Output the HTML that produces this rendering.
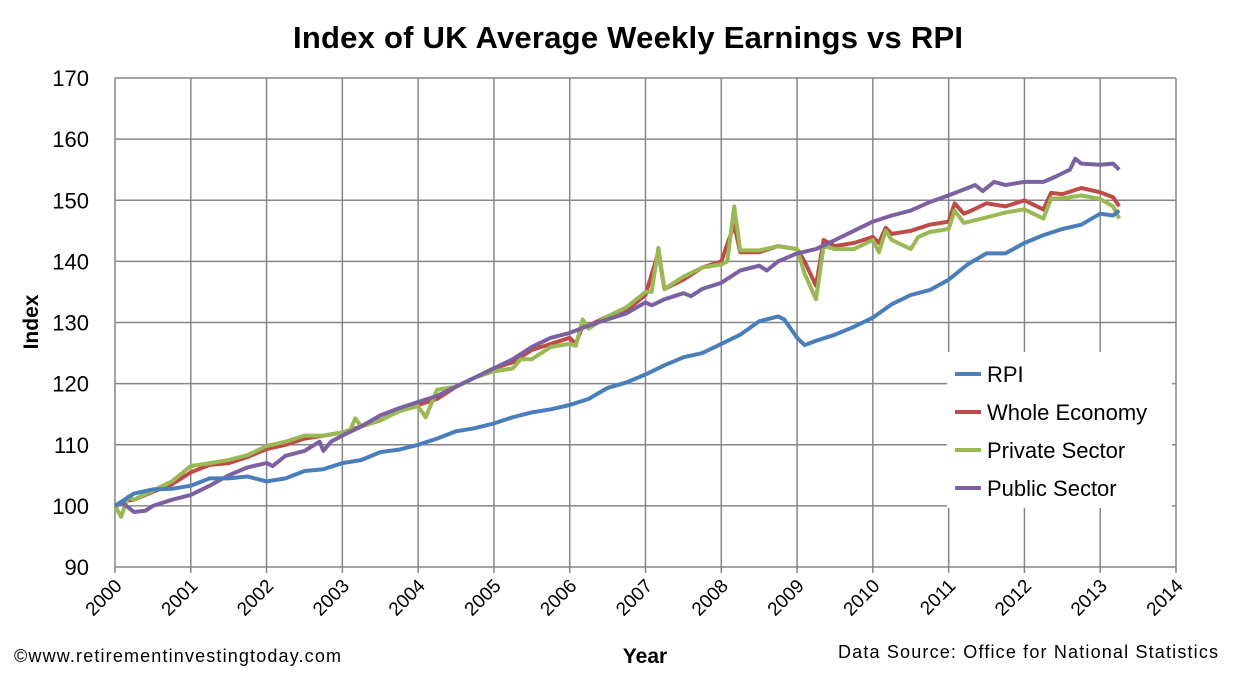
<!DOCTYPE html>
<html><head><meta charset="utf-8"><style>
body{margin:0;background:#fff;font-family:"Liberation Sans",sans-serif}
</style></head><body>
<svg width="1257" height="675" viewBox="0 0 1257 675">
<rect width="1257" height="675" fill="#fff"/>
<text x="628" y="48" font-size="31" font-weight="bold" text-anchor="middle" textLength="670">Index of UK Average Weekly Earnings vs RPI</text>
<g id="grid"></g>
<g id="series"></g>
<text x="0" y="0" transform="translate(38,322) rotate(-90)" font-size="21" font-weight="bold" text-anchor="middle">Index</text>
<text x="645" y="663" font-size="21" font-weight="bold" text-anchor="middle">Year</text>
<text x="14" y="662" font-size="18" textLength="327">©www.retirementinvestingtoday.com</text>
<text x="838" y="658" font-size="18" textLength="380">Data Source: Office for National Statistics</text>
<g id="legend"></g>
</svg>
<script>
const yTicks=[90,100,110,120,130,140,150,160,170];
const xTicks=[2000,2001,2002,2003,2004,2005,2006,2007,2008,2009,2010,2011,2012,2013,2014];
const seriesNames=["RPI","Whole Economy","Private Sector","Public Sector"];
const seriesColors=["#4a7ebb","#be4b48","#98b954","#7d60a0"];
const rpiX=[2000,2000.25,2000.5,2000.75,2001,2001.25,2001.5,2001.75,2002,2002.25,2002.5,2002.75,2003,2003.25,2003.5,2003.75,2004,2004.25,2004.5,2004.75,2005,2005.25,2005.5,2005.75,2006,2006.25,2006.5,2006.75,2007,2007.25,2007.5,2007.75,2008,2008.25,2008.5,2008.75,2008.83,2009,2009.1,2009.25,2009.5,2009.75,2010,2010.25,2010.5,2010.75,2011,2011.25,2011.5,2011.75,2012,2012.25,2012.5,2012.75,2013,2013.17,2013.25];
const rpiY=[100,102,102.7,102.8,103.3,104.5,104.5,104.8,104,104.5,105.7,106,107,107.5,108.8,109.2,110,111,112.2,112.7,113.5,114.5,115.3,115.8,116.5,117.5,119.3,120.2,121.5,123,124.3,125,126.5,128,130.2,131,130.5,127.5,126.3,127,128,129.3,130.8,133,134.5,135.3,137,139.5,141.3,141.3,143,144.3,145.3,146,147.8,147.5,148.3];
const wholeX=[2000,2000.1,2000.25,2000.5,2000.75,2001,2001.25,2001.5,2001.75,2002,2002.25,2002.5,2002.75,2003,2003.25,2003.5,2003.75,2004,2004.25,2004.5,2004.75,2005,2005.25,2005.5,2005.75,2006,2006.08,2006.17,2006.25,2006.5,2006.75,2007,2007.17,2007.25,2007.5,2007.75,2008,2008.17,2008.25,2008.5,2008.75,2009,2009.1,2009.25,2009.35,2009.5,2009.75,2010,2010.08,2010.17,2010.25,2010.5,2010.75,2011,2011.08,2011.2,2011.3,2011.5,2011.75,2012,2012.25,2012.35,2012.5,2012.75,2013,2013.17,2013.25];
const wholeY=[100,100.8,101,102.3,103.5,105.5,106.7,107,108,109.3,110,111,111.5,112,113,114,115.5,116.5,117.5,119.5,121,122.5,123.5,125.5,126.5,127.5,126.5,129.5,129.5,131,132,134.5,141.5,135.5,137,139,140,146,141.5,141.5,142.5,142,140,136,143.5,142.5,143,144,143,145.5,144.5,145,146,146.5,149.5,147.8,148.3,149.5,149,150,148.5,151.2,151,152,151.3,150.5,149];
const privX=[2000,2000.08,2000.17,2000.25,2000.5,2000.75,2001,2001.25,2001.5,2001.75,2002,2002.25,2002.5,2002.75,2003,2003.1,2003.17,2003.25,2003.5,2003.75,2004,2004.1,2004.25,2004.5,2004.75,2005,2005.25,2005.35,2005.5,2005.75,2006,2006.08,2006.17,2006.25,2006.5,2006.75,2007,2007.08,2007.17,2007.25,2007.5,2007.75,2008,2008.08,2008.17,2008.25,2008.5,2008.75,2009,2009.1,2009.25,2009.35,2009.5,2009.75,2010,2010.08,2010.17,2010.25,2010.5,2010.6,2010.75,2011,2011.08,2011.2,2011.5,2011.75,2012,2012.25,2012.35,2012.5,2012.75,2013,2013.17,2013.25];
const privY=[100,98.2,101.5,101,102.5,104,106.5,107,107.5,108.3,109.8,110.5,111.5,111.5,112,112.3,114.3,113,114,115.5,116.3,114.5,119,119.5,121,122,122.5,124,124,126,126.5,126.2,130.5,129,131,132.5,135,135,142.2,135.5,137.5,139,139.5,140,149,141.8,141.8,142.5,142,138,133.8,142.5,142,142,143.5,141.5,145,143.5,142,144,144.8,145.3,148.3,146.3,147.2,148,148.5,147,150.3,150.3,150.8,150.2,149,147];
const pubX=[2000,2000.1,2000.25,2000.4,2000.5,2000.75,2001,2001.25,2001.5,2001.75,2002,2002.08,2002.25,2002.5,2002.7,2002.75,2002.85,2003,2003.25,2003.5,2003.75,2004,2004.25,2004.5,2004.75,2005,2005.25,2005.5,2005.75,2006,2006.25,2006.5,2006.75,2007,2007.08,2007.25,2007.5,2007.6,2007.75,2008,2008.25,2008.5,2008.6,2008.75,2009,2009.25,2009.5,2009.75,2010,2010.25,2010.5,2010.75,2011,2011.25,2011.35,2011.45,2011.6,2011.75,2012,2012.25,2012.4,2012.6,2012.67,2012.75,2013,2013.17,2013.25];
const pubY=[100,100.5,99,99.2,100,101,101.8,103.3,105,106.3,107,106.5,108.2,109,110.5,109,110.5,111.5,113,114.8,116,117,118,119.5,121,122.5,124,126,127.5,128.3,129.5,130.5,131.5,133.3,132.8,133.8,134.8,134.3,135.5,136.5,138.5,139.3,138.5,140,141.3,142,143.5,145,146.5,147.5,148.3,149.7,150.8,152,152.5,151.5,153,152.5,153,153,153.8,155,156.8,156,155.8,156,155];
const allX=[rpiX,wholeX,privX,pubX], allY=[rpiY,wholeY,privY,pubY];
const NS="http://www.w3.org/2000/svg";
const x0=115,x1=1176,y0=567,y1=78;
const xs=v=>x0+(v-2000)/(2014-2000)*(x1-x0);
const ys=v=>y0-(v-90)/(170-90)*(y0-y1);
function mk(t,a,p){const e=document.createElementNS(NS,t);for(const k in a)e.setAttribute(k,a[k]);p.appendChild(e);return e;}
const grid=document.getElementById('grid');
yTicks.forEach(t=>{
 const l=mk('line',{x1:x0,x2:x1,y1:ys(t),y2:ys(t),stroke:'#868686','stroke-width':1.5},grid);
 
 
 const tx=mk('text',{x:x0-26,y:ys(t)+8,'font-size':22,'text-anchor':'end'},grid);tx.textContent=t;
 
 
});
xTicks.forEach(t=>{
 const l=mk('line',{x1:xs(t),x2:xs(t),y1:y1,y2:y0+6,stroke:'#868686','stroke-width':1.5},grid);
 
 
 const tx=mk('text',{x:0,y:0,'font-size':19,'text-anchor':'end',transform:`translate(${xs(t)+8},${y0+20}) rotate(-45)`},grid);tx.textContent=t;
 
 
});
const sg=document.getElementById('series');
[1,2,3,0].forEach(i=>{
 const pts=allX[i].map((x,j)=>xs(x).toFixed(1)+','+ys(allY[i][j]).toFixed(1)).join(' ');
 const p=mk('polyline',{points:pts,fill:'none',stroke:seriesColors[i],'stroke-width':4,'stroke-linejoin':'round'},sg);
 
 
});
const lg=document.getElementById('legend');
mk('rect',{x:947,y:352,width:225,height:156,fill:'#fff'},lg);
seriesNames.forEach((n,i)=>{
 const y=374+i*38;
 const l=mk('line',{x1:955,x2:981,y1:y,y2:y,stroke:seriesColors[i],'stroke-width':4},lg);
 
 
 const t=mk('text',{x:987,y:y+8,'font-size':22},lg);t.textContent=n;
 
 
});
</script>
</body></html>
